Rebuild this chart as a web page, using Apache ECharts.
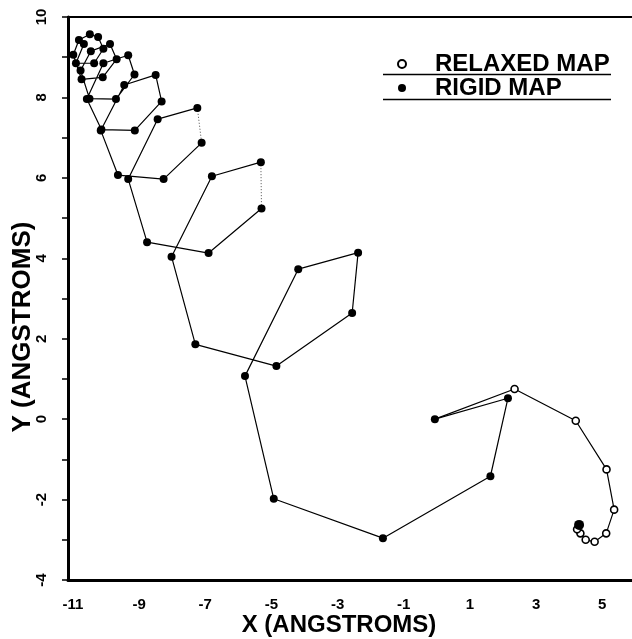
<!DOCTYPE html>
<html>
<head>
<meta charset="utf-8">
<script src="https://cdn.jsdelivr.net/npm/echarts@6/dist/echarts.min.js"></script>
<style>
html,body{margin:0;padding:0;background:#fff;}
#chart{width:632px;height:639px;}
</style>
</head>
<body>
<div id="chart"></div>
<script>
// ---- data ----
const xTickLabels = [-11, -9, -7, -5, -3, -1, 1, 3, 5];
const yTickLabels = [-4, -2, 0, 2, 4, 6, 8, 10];

// rigid map chain (filled dots), from the free end at the origin toward the top-left
const rigidX = [-0.06, 2.15, 1.62, -1.63, -4.93, -5.80, -4.19, -2.38, -2.56, -4.85,
  -7.30, -8.02, -6.80, -5.32, -5.30, -6.90, -8.76, -9.33, -8.44, -7.24,
  -7.11, -8.26, -9.64, -10.16, -9.45, -8.50, -8.32, -9.13, -10.14, -10.58,
  -10.08, -9.33, -9.14, -9.70, -10.50, -10.77, -10.46, -9.88, -9.68, -10.10,
  -10.74, -10.99, -10.82, -10.49, -10.24, -10.08, -10.36, -10.91, -10.67];
const rigidY = [0.00, 0.52, -1.42, -2.96, -1.98, 1.07, 3.73, 4.14, 2.64, 1.32,
  1.86, 4.04, 6.04, 6.39, 5.24, 4.13, 4.40, 5.97, 7.46, 7.74,
  6.87, 5.97, 6.07, 7.18, 8.31, 8.56, 7.90, 7.18, 7.20, 7.96,
  8.85, 9.05, 8.57, 7.96, 7.97, 8.67, 9.15, 9.33, 8.95, 8.50,
  8.45, 9.06, 9.43, 9.57, 9.50, 9.21, 8.85, 8.85, 9.33];
// segments of the rigid chain drawn dotted (start index)
const dottedStarts = [13, 19];

// relaxed map chain (open circles)
const relaxedX = [-0.06, 2.35, 4.20, 5.13, 5.36, 5.12, 4.77, 4.50, 4.34, 4.24, 4.30];
const relaxedY = [0.00, 0.75, -0.04, -1.25, -2.25, -2.84, -3.05, -3.00, -2.84, -2.74, -2.63];

const seriesNames = ['RELAXED MAP', 'RIGID MAP'];
const xTitle = 'X (ANGSTROMS)';
const yTitle = 'Y (ANGSTROMS)';

// ---- build ----
const pts = (xs, ys, a, b) => xs.slice(a, b + 1).map((x, i) => [x, ys[a + i]]);
const FONT = '"Liberation Sans", Arial, Helvetica, sans-serif';
const lineBase = { type: 'line', symbol: 'none', silent: true, animation: false, z: 2 };

const series = [];
// rigid chain: solid pieces between dotted segments
let start = 0;
const breaks = dottedStarts.slice().sort((a, b) => a - b);
breaks.forEach(d => {
  series.push(Object.assign({}, lineBase, { data: pts(rigidX, rigidY, start, d), lineStyle: { color: '#000', width: 1.2 } }));
  series.push(Object.assign({}, lineBase, { data: pts(rigidX, rigidY, d, d + 1), lineStyle: { color: '#000', width: 1, type: [1, 2], opacity: 0.7 } }));
  start = d + 1;
});
series.push(Object.assign({}, lineBase, { data: pts(rigidX, rigidY, start, rigidX.length - 1), lineStyle: { color: '#000', width: 1.2 } }));
// relaxed chain line
series.push(Object.assign({}, lineBase, { data: pts(relaxedX, relaxedY, 0, relaxedX.length - 1), lineStyle: { color: '#000', width: 1.2 } }));

// relaxed open circles (all but the last converged point)
series.push({
  type: 'scatter', name: seriesNames[0], animation: false, z: 3,
  symbol: 'circle', symbolSize: 7,
  itemStyle: { color: '#fff', borderColor: '#000', borderWidth: 1.6, opacity: 1 },
  data: pts(relaxedX, relaxedY, 1, relaxedX.length - 2)
});
// converged end of relaxed map: dark blob
series.push({
  type: 'scatter', animation: false, z: 4, silent: true,
  symbol: 'circle', symbolSize: 10,
  itemStyle: { color: '#000', opacity: 1 },
  data: pts(relaxedX, relaxedY, relaxedX.length - 1, relaxedX.length - 1)
});
// rigid filled dots
series.push({
  type: 'scatter', name: seriesNames[1], animation: false, z: 5,
  symbol: 'circle', symbolSize: 8,
  itemStyle: { color: '#000', opacity: 1 },
  data: pts(rigidX, rigidY, 0, rigidX.length - 1)
});

const chart = echarts.init(document.getElementById('chart'), null, { renderer: 'canvas' });
chart.setOption({
  animation: false,
  backgroundColor: '#fff',
  grid: { left: 68, right: 0, top: 17, bottom: 59, containLabel: false },
  xAxis: [{
    type: 'value', min: -11.15, max: 5.9,
    axisLine: { show: true, onZero: false, lineStyle: { color: '#000', width: 3 } },
    axisTick: { show: false },
    splitLine: { show: false },
    axisLabel: { customValues: xTickLabels, color: '#000', fontFamily: FONT, fontWeight: 'bold', fontSize: 15, margin: 17 }
  }, {
    type: 'value', min: -11.15, max: 5.9, position: 'top',
    axisLine: { show: true, onZero: false, lineStyle: { color: '#000', width: 2 } },
    axisTick: { show: false }, axisLabel: { show: false }, splitLine: { show: false }
  }],
  yAxis: {
    type: 'value', min: -4, max: 10, interval: 2,
    axisLine: { show: true, onZero: false, lineStyle: { color: '#000', width: 3 } },
    axisTick: { show: true, inside: false, length: 6, lineStyle: { color: '#000', width: 1.5 } },
    minorTick: { show: true, splitNumber: 2, length: 6, lineStyle: { color: '#000', width: 1.5 } },
    splitLine: { show: false },
    axisLabel: { customValues: yTickLabels, rotate: 90, color: '#000', fontFamily: FONT, fontWeight: 'bold', fontSize: 15, margin: 19 }
  },
  legend: {
    orient: 'vertical', left: 397, top: 52, itemGap: 0, padding: 0,
    itemWidth: 8, itemHeight: 8,
    data: seriesNames,
    selectedMode: false,
    textStyle: { color: '#000', fontFamily: FONT, fontWeight: 'bold', fontSize: 24, lineHeight: 22, padding: [0, 0, 0, 24] }
  },
  graphic: [
    { type: 'line', shape: { x1: 383, y1: 74.5, x2: 611, y2: 74.5 }, style: { stroke: '#000', lineWidth: 1.5 }, silent: true },
    { type: 'line', shape: { x1: 383, y1: 99.5, x2: 611, y2: 99.5 }, style: { stroke: '#000', lineWidth: 1.5 }, silent: true },
    { type: 'text', x: 339, y: 625, style: { text: xTitle, fill: '#000', font: 'bold 24px ' + FONT, textAlign: 'center', textVerticalAlign: 'middle' }, silent: true },
    { type: 'text', x: 23, y: 327, rotation: Math.PI / 2, style: { text: yTitle, fill: '#000', font: 'bold 26px ' + FONT, textAlign: 'center', textVerticalAlign: 'middle' }, silent: true }
  ],
  series: series
});
</script>
</body>
</html>
